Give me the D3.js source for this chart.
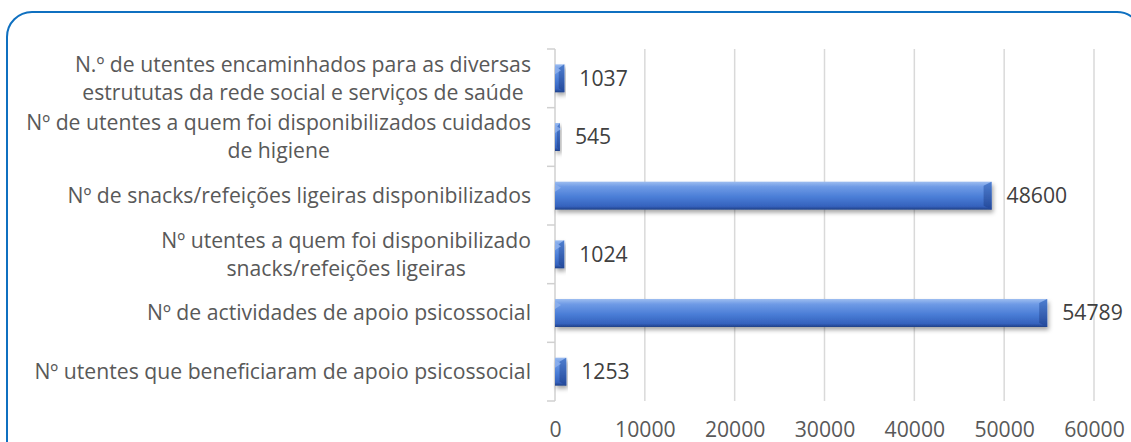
<!DOCTYPE html>
<html>
<head>
<meta charset="utf-8">
<script src="https://cdn.jsdelivr.net/npm/d3@7"></script>
<style>
  body { margin: 0; background: #fff; }
  svg { display: block; font-family: "Open Sans", sans-serif; }
</style>
</head>
<body>
<div id="chart"></div>
<script>
// categories, top to bottom; "\n" marks a line break
var categories = [
  "N.º de utentes encaminhados para as diversas\nestrututas da rede social e serviços de saúde",
  "Nº de utentes a quem foi disponibilizados cuidados\nde higiene",
  "Nº de snacks/refeições ligeiras disponibilizados",
  "Nº utentes a quem foi disponibilizado\nsnacks/refeições ligeiras",
  "Nº de actividades de apoio psicossocial",
  "Nº utentes que beneficiaram de apoio psicossocial"
];
var values = [1037, 545, 48600, 1024, 54789, 1253];
var tickValues = [0, 10000, 20000, 30000, 40000, 50000, 60000];

var W = 1131, H = 442;
var fontSize = 21.2;

var svg = d3.select("#chart").append("svg")
    .attr("width", W)
    .attr("height", H);

var defs = svg.append("defs");

var grad = defs.append("linearGradient")
    .attr("id", "barGrad")
    .attr("x1", 0).attr("y1", 0).attr("x2", 0).attr("y2", 1);
grad.append("stop").attr("offset", "0%").attr("stop-color", "#9dbdf0");
grad.append("stop").attr("offset", "18%").attr("stop-color", "#6f9be6");
grad.append("stop").attr("offset", "55%").attr("stop-color", "#4a7dd6");
grad.append("stop").attr("offset", "88%").attr("stop-color", "#3562bd");
grad.append("stop").attr("offset", "100%").attr("stop-color", "#1f3f86");

var capGrad = defs.append("linearGradient")
    .attr("id", "capGrad")
    .attr("x1", 0).attr("y1", 0).attr("x2", 0).attr("y2", 1);
capGrad.append("stop").attr("offset", "0%").attr("stop-color", "#4f7fd0");
capGrad.append("stop").attr("offset", "100%").attr("stop-color", "#23489a");

var shadow = defs.append("filter")
    .attr("id", "shadow")
    .attr("x", "-10%").attr("y", "-30%")
    .attr("width", "120%").attr("height", "180%");
shadow.append("feDropShadow")
    .attr("dx", 1.5).attr("dy", 3)
    .attr("stdDeviation", 2)
    .attr("flood-color", "#000")
    .attr("flood-opacity", 0.35);

// rounded frame
svg.append("rect")
    .attr("x", 7).attr("y", 12)
    .attr("width", 1135).attr("height", 470)
    .attr("rx", 25).attr("ry", 25)
    .attr("fill", "none")
    .attr("stroke", "#0f70c0")
    .attr("stroke-width", 2);

var x = d3.scaleLinear()
    .domain([0, 60000])
    .range([555, 1094]);

var y = d3.scaleBand()
    .domain(categories)
    .range([49, 401])
    .paddingInner(0.523)
    .paddingOuter(0.2615);

// gridlines
svg.append("g")
    .selectAll("line")
    .data(tickValues.slice(1))
    .enter().append("line")
    .attr("x1", function(d) { return x(d); })
    .attr("x2", function(d) { return x(d); })
    .attr("y1", 49)
    .attr("y2", 401)
    .attr("stroke", "#d9d9d9")
    .attr("stroke-width", 1.5);

// x tick labels
var xAxis = svg.append("g")
    .attr("transform", "translate(0,401)")
    .call(d3.axisBottom(x).tickValues(tickValues).tickSize(0).tickPadding(21).tickFormat(d3.format("d")));
xAxis.select(".domain").remove();
xAxis.selectAll("text")
    .attr("font-family", "Open Sans, sans-serif")
    .attr("font-size", fontSize)
    .attr("fill", "#595959");

// category axis
var yAxis = svg.append("g")
    .attr("transform", "translate(" + x(0) + ",0)");
yAxis.append("line")
    .attr("x1", 0).attr("x2", 0)
    .attr("y1", 49).attr("y2", 401)
    .attr("stroke", "#d0d0d0")
    .attr("stroke-width", 1.5);
var step = y.step();
var bounds = d3.range(categories.length + 1).map(function(i) { return 49 + i * step; });
yAxis.selectAll(".tick")
    .data(bounds)
    .enter().append("line")
    .attr("x1", -8).attr("x2", 0)
    .attr("y1", function(d) { return d; })
    .attr("y2", function(d) { return d; })
    .attr("stroke", "#d0d0d0")
    .attr("stroke-width", 1.5);

// category labels
var labelRight = 531;
var labels = svg.append("g")
    .selectAll("text")
    .data(categories)
    .enter().append("text")
    .attr("font-size", fontSize)
    .attr("fill", "#595959")
    .attr("text-anchor", "middle");

labels.each(function(d) {
  var t = d3.select(this);
  var lines = d.split("\n");
  var cy = y(d) + y.bandwidth() / 2;
  var lh = 28;
  var tspans = lines.map(function(line, i) {
    return t.append("tspan")
      .attr("y", cy + (i - (lines.length - 1) / 2) * lh)
      .attr("dy", "0.35em")
      .text(line);
  });
  var maxW = d3.max(tspans, function(s) { return s.node().getComputedTextLength(); });
  var cx = labelRight - maxW / 2;
  tspans.forEach(function(s) { s.attr("x", cx); });
});

// bars
var bars = svg.append("g")
    .selectAll("g")
    .data(values)
    .enter().append("g")
    .attr("filter", "url(#shadow)");

bars.append("rect")
    .attr("x", x(0))
    .attr("y", function(d, i) { return y(categories[i]); })
    .attr("width", function(d) { return x(d) - x(0); })
    .attr("height", y.bandwidth())
    .attr("fill", "url(#barGrad)");

// bevelled end cap
bars.append("path")
    .attr("d", function(d, i) {
      var x1 = x(d), y0 = y(categories[i]), h = y.bandwidth();
      var c = Math.min(8, (x1 - x(0)) * 0.6);
      return "M" + (x1 - c) + "," + (y0 + 4) +
        "L" + x1 + "," + y0 +
        "L" + x1 + "," + (y0 + h) +
        "L" + (x1 - c) + "," + (y0 + h - 4) + "Z";
    })
    .attr("fill", "url(#capGrad)");

// small bevel on the left end
bars.append("path")
    .attr("d", function(d, i) {
      var x0 = x(0), y0 = y(categories[i]), h = y.bandwidth();
      return "M" + x0 + "," + (y0 + 2) +
        "L" + (x0 + 6) + "," + (y0 + 6) +
        "L" + x0 + "," + (y0 + 10) + "Z";
    })
    .attr("fill", "#8fb2ee")
    .attr("opacity", 0.8);

// value labels
svg.append("g")
    .selectAll("text")
    .data(values)
    .enter().append("text")
    .attr("x", function(d) { return x(d) + 15; })
    .attr("y", function(d, i) { return y(categories[i]) + y.bandwidth() / 2; })
    .attr("dy", "0.35em")
    .attr("font-size", fontSize)
    .attr("fill", "#404040")
    .text(function(d) { return d; });
</script>
</body>
</html>
